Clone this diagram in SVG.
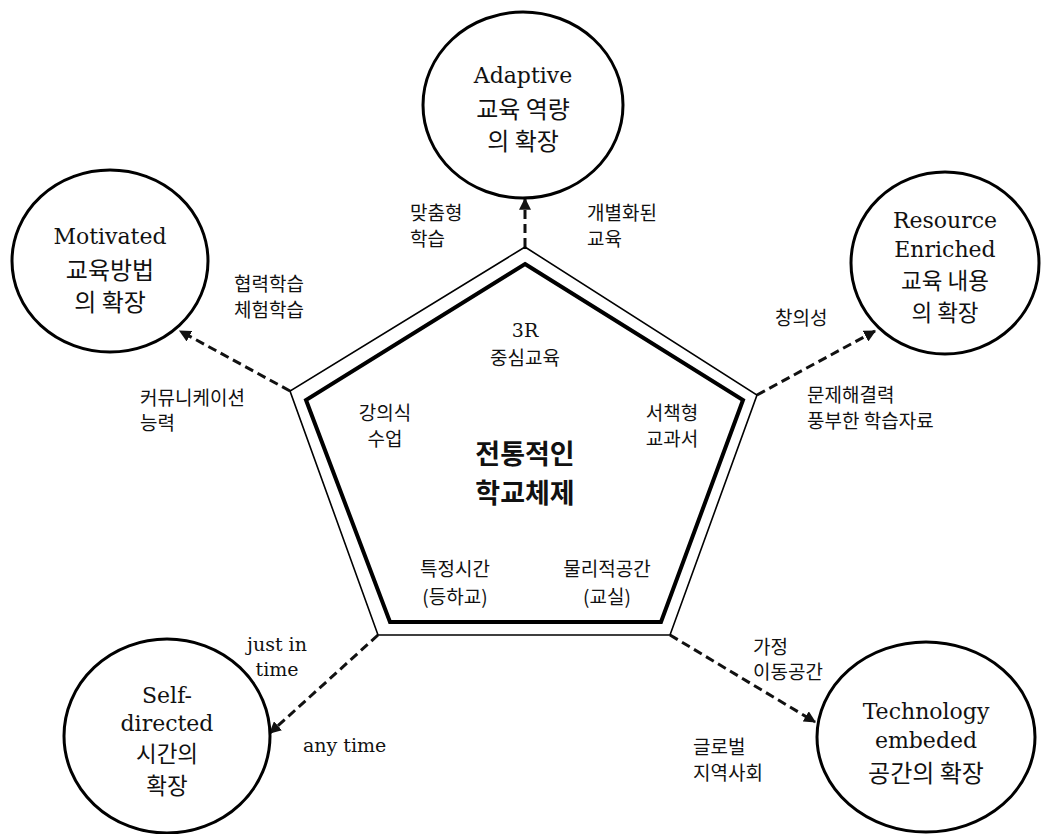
<svg xmlns="http://www.w3.org/2000/svg" width="1041" height="834" viewBox="0 0 1041 834">
<style>
text{font-family:"DejaVu Serif","Noto Sans CJK KR",serif;fill:#111;dominant-baseline:central}
.n{font-size:22px;text-anchor:middle}
.nk{font-size:24px;text-anchor:middle;font-family:"Noto Sans CJK KR",sans-serif}
.s{font-size:22.5px}
.l{font-size:19px}
.lk{font-size:19px;font-family:"Noto Sans CJK KR",sans-serif}
.c{text-anchor:middle}
.big{font-size:27px;font-weight:bold;text-anchor:middle;font-family:"Noto Sans CJK KR",sans-serif}
.circ{fill:#fff;stroke:#000;stroke-width:3}
.arr{fill:none;stroke:#111;stroke-width:3;stroke-dasharray:9 5;marker-end:url(#ah)}
</style>
<defs>
<marker id="ah" viewBox="0 0 10 10" refX="9" refY="5" markerWidth="4" markerHeight="4" orient="auto" markerUnits="strokeWidth">
<path d="M0,0 L10,5 L0,10 z" fill="#111"/>
</marker>
</defs>
<rect width="1041" height="834" fill="#fff"/>
<g id="connectors">
<line class="arr" x1="525" y1="247" x2="525" y2="199"/>
<line class="arr" x1="290" y1="391" x2="180" y2="331"/>
<line class="arr" x1="757" y1="395" x2="875" y2="331"/>
<line class="arr" x1="378" y1="635" x2="270" y2="733"/>
<line class="arr" x1="670" y1="635" x2="815" y2="722"/>
</g>
<g id="pentagon">
<polygon points="525,247 757,395 670,635 378,635 290,391" fill="none" stroke="#000" stroke-width="1.6"/>
<polygon points="525,264 743,400 661,622 390,622 306,400" fill="none" stroke="#000" stroke-width="4"/>
<text class="big" x="525" y="452">전통적인</text>
<text class="big" x="525" y="491">학교체제</text>
<text class="l c" x="525" y="330">3R</text>
<text class="lk c" x="525" y="356">중심교육</text>
<text class="lk c" x="385" y="411">강의식</text>
<text class="lk c" x="385" y="437">수업</text>
<text class="lk c" x="672" y="411">서책형</text>
<text class="lk c" x="672" y="437">교과서</text>
<text class="lk c" x="455" y="567">특정시간</text>
<text class="lk c" x="455" y="595">(등하교)</text>
<text class="lk c" x="607" y="567">물리적공간</text>
<text class="lk c" x="607" y="595">(교실)</text>
</g>
<g id="node-adaptive">
<ellipse class="circ" cx="523" cy="105" rx="100" ry="93"/>
<text class="n" x="523" y="75">Adaptive</text>
<text class="nk" x="523" y="107">교육 역량</text>
<text class="nk" x="523" y="139">의 확장</text>
</g>
<g id="node-motivated">
<ellipse class="circ" cx="110" cy="261" rx="98" ry="91"/>
<text class="n" x="110" y="236">Motivated</text>
<text class="nk" x="110" y="268">교육방법</text>
<text class="nk" x="110" y="300">의 확장</text>
</g>
<g id="node-resource">
<ellipse class="circ" cx="945" cy="263" rx="94" ry="91"/>
<text class="n" x="945" y="220">Resource</text>
<text class="n" x="945" y="249">Enriched</text>
<text class="nk s" x="945" y="279">교육 내용</text>
<text class="nk s" x="945" y="311">의 확장</text>
</g>
<g id="node-self">
<ellipse class="circ" cx="167" cy="736" rx="103" ry="97"/>
<text class="n" x="167" y="695">Self-</text>
<text class="n" x="167" y="723">directed</text>
<text class="nk s" x="167" y="752">시간의</text>
<text class="nk s" x="167" y="784">확장</text>
</g>
<g id="node-technology">
<ellipse class="circ" cx="926" cy="737" rx="109" ry="95"/>
<text class="n" x="926" y="711">Technology</text>
<text class="n" x="926" y="740">embeded</text>
<text class="nk" x="926" y="771">공간의 확장</text>
</g>
<g id="labels">
<text class="lk" x="410" y="211">맞춤형</text>
<text class="lk" x="410" y="237">학습</text>
<text class="lk" x="587" y="211">개별화된</text>
<text class="lk" x="587" y="237">교육</text>
<text class="lk" x="234" y="282">협력학습</text>
<text class="lk" x="234" y="308">체험학습</text>
<text class="lk" x="775" y="316">창의성</text>
<text class="lk" x="140" y="396">커뮤니케이션</text>
<text class="lk" x="140" y="421">능력</text>
<text class="lk" x="807" y="393">문제해결력</text>
<text class="lk" x="807" y="419">풍부한 학습자료</text>
<text class="l c" x="277" y="644">just in</text>
<text class="l c" x="277" y="669">time</text>
<text class="l" x="303" y="745">any time</text>
<text class="lk" x="753" y="645">가정</text>
<text class="lk" x="753" y="670">이동공간</text>
<text class="lk" x="693" y="745">글로벌</text>
<text class="lk" x="693" y="771">지역사회</text>
</g>
</svg>
